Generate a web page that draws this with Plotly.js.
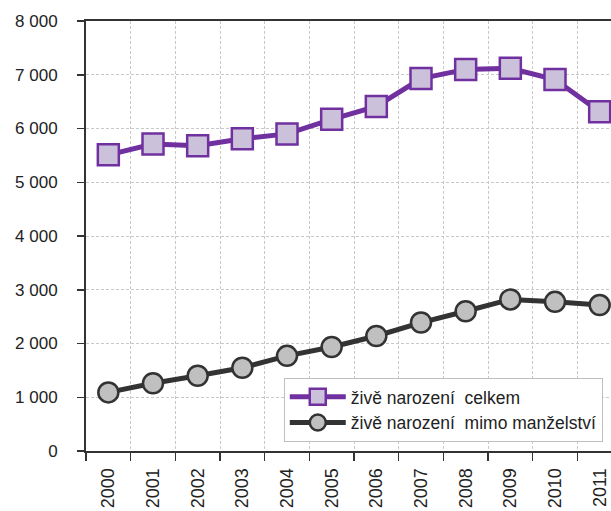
<!DOCTYPE html>
<html><head><meta charset="utf-8">
<script src="https://cdn.plot.ly/plotly-3.0.1.min.js"></script>
<style>html,body{margin:0;padding:0;overflow:hidden;background:#fff;}#chart{width:640px;height:511px;}</style>
</head><body><div id="chart"></div>
<script>
var years = ['2000','2001','2002','2003','2004','2005','2006','2007','2008','2009','2010','2011'];
var celkem = [5510, 5710, 5680, 5810, 5900, 6170, 6410, 6930, 7100, 7120, 6910, 6310];
var mimo = [1090, 1260, 1400, 1550, 1770, 1935, 2140, 2390, 2600, 2820, 2775, 2715];
var names = ['živě narození  celkem', 'živě narození  mimo manželství'];
var yTicks = [0,1000,2000,3000,4000,5000,6000,7000,8000];

var traces = [
  {x: years, y: celkem, name: names[0], type: 'scatter', mode: 'lines+markers',
   line: {color: '#7030a0', width: 5},
   marker: {symbol: 'square', size: 21, color: '#ccc1da', line: {color: '#7030a0', width: 2.5}}},
  {x: years, y: mimo, name: names[1], type: 'scatter', mode: 'lines+markers',
   line: {color: '#333333', width: 5},
   marker: {symbol: 'circle', size: 20, color: '#c0c0c0', line: {color: '#333333', width: 2.5}}}
];

var layout = {
  width: 632, height: 511,
  margin: {l: 86, r: 10, t: 21, b: 60},
  paper_bgcolor: '#fff', plot_bgcolor: '#fff',
  separators: ', ',
  font: {family: 'Liberation Sans, Arial, sans-serif', size: 16, color: '#222'},
  showlegend: true,
  legend: {x: 0.369, y: 0.17, xanchor: 'left', yanchor: 'top', itemwidth: 56,
    bgcolor: '#fff', bordercolor: '#bfbfbf', borderwidth: 1,
    font: {size: 17.5, color: '#222'}, tracegroupgap: 0},
  xaxis: {type: 'category', range: [-0.5, years.length - 0.5], autorange: false,
    tickson: 'boundaries', ticks: 'outside', ticklen: 8, tickwidth: 1.5,
    tickcolor: '#333', showline: true, linecolor: '#333', linewidth: 2, mirror: true,
    showgrid: true, gridcolor: '#c8c8c8', griddash: '3px,2px', gridwidth: 1, automargin: false,
    tickangle: -90, tickfont: {size: 18, color: '#222'}, ticklabelstandoff: 8, fixedrange: true},
  yaxis: {range: [0, 8000], autorange: false, tickvals: yTicks, tickformat: ',d', ticks: 'outside', ticklen: 7, tickwidth: 1.5,
    tickcolor: '#333', showline: true, linecolor: '#333', linewidth: 2, mirror: true,
    showgrid: true, gridcolor: '#c8c8c8', griddash: '3px,2px', gridwidth: 1, zeroline: false, automargin: false,
    tickfont: {size: 17, color: '#222'}, ticklabelstandoff: 16, fixedrange: true}
};
Plotly.newPlot('chart', traces, layout, {displayModeBar: false, staticPlot: true});
</script></body></html>
